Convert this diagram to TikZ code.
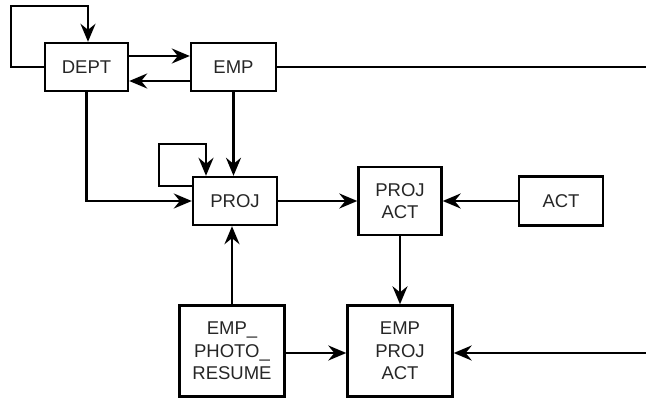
\documentclass[tikz,border=0pt]{standalone}
\usepackage{fontspec}
\setmainfont{Liberation Sans}
\usetikzlibrary{arrows.meta}

\begin{document}
\begin{tikzpicture}[x=1pt,y=-1pt,
    table/.style={draw, line width=2.4pt, inner sep=0pt, align=center,
      text=black!85, font=\fontsize{18.5}{22.5}\selectfont},
    link/.style={line width=2.4pt, -{Stealth[length=18pt,width=15pt,inset=6pt]}}]
  \useasboundingbox (0,0) rectangle (646,398);

  % Tables
  \node[table, minimum width=83pt, minimum height=48pt] (dept) at (86.5,67) {DEPT};
  \node[table, minimum width=85pt, minimum height=48pt] (emp) at (233.5,67) {EMP};
  \node[table, minimum width=84pt, minimum height=48pt] (proj) at (235,201) {PROJ};
  \node[table, minimum width=83pt, minimum height=68pt] (projact) at (400,201) {PROJ\\ACT};
  \node[table, minimum width=84pt, minimum height=49pt] (act) at (561,201) {ACT};
  \node[table, minimum width=105pt, minimum height=91pt] (epr) at (232,351) {EMP\_\\PHOTO\_\\RESUME};
  \node[table, minimum width=105pt, minimum height=91pt] (epa) at (400,351) {EMP\\PROJ\\ACT};

  % Loose ends at the right margin
  \coordinate (edgetop) at (646,67);
  \coordinate (edgebot) at (646,353);

  % DEPT self reference
  \draw[link] (dept.west) -- ++(-33,0) -- ++(0,-61) -| ([xshift=1.5pt]dept.north);

  % DEPT and EMP
  \draw[link] ([yshift=11pt]dept.east) -- ([yshift=11pt]emp.west);
  \draw[link] ([yshift=-14pt]emp.west) -- ([yshift=-14pt]dept.east);
  \draw[line width=2.4pt] (emp.east) -- (edgetop);

  % Into PROJ
  \draw[link] (dept.south) |- (proj.west);
  \draw[link] (emp.south) -- (emp.south |- proj.north);
  \draw[link] ([yshift=15pt]proj.west) -- ++(-33,0) -- ++(0,-42) -| ([xshift=-29pt]proj.north);
  \draw[link] (epr.north) -- (epr.north |- proj.south);

  % PROJ ACT
  \draw[link] (proj.east) -- (projact.west);
  \draw[link] (act.west) -- (projact.east);

  % EMP PROJ ACT
  \draw[link] (projact.south) -- (epa.north);
  \draw[link] (epr.east |- 0,353) -- (epa.west |- 0,353);
  \draw[link] (edgebot) -- (epa.east |- edgebot);

\end{tikzpicture}
\end{document}
